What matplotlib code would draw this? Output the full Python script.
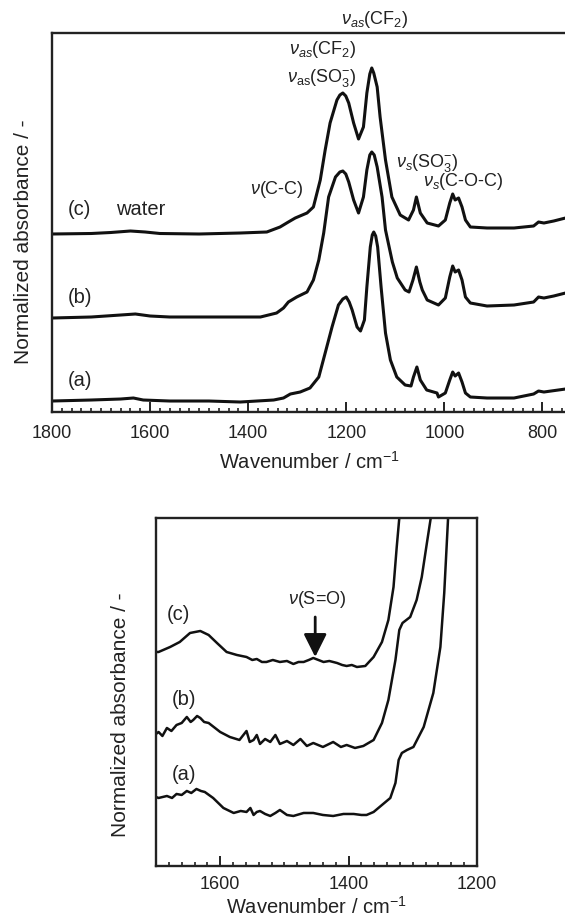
import matplotlib
matplotlib.use('Agg')
import matplotlib.pyplot as plt
from matplotlib.ticker import MultipleLocator

plt.rcParams['font.family'] = ['Liberation Sans', 'DejaVu Sans']
plt.rcParams['mathtext.fontset'] = 'custom'
plt.rcParams['mathtext.rm'] = 'Liberation Sans'
plt.rcParams['mathtext.it'] = 'Liberation Sans:italic'

# ---- top panel: full spectra (offsets included)
wn_top_a = [1800, 1720, 1660, 1634, 1614, 1560, 1480, 1416, 1348, 1328, 1314, 1294, 1274, 1256,
            1243, 1229, 1216, 1207, 1200, 1194, 1188, 1178, 1171, 1163, 1158, 1151, 1147, 1144,
            1140, 1136, 1129, 1120, 1110, 1097, 1080, 1068, 1063, 1056, 1049, 1036, 1015, 1012,
            998, 989, 983, 978, 971, 964, 957, 947, 913, 858, 818, 808, 797, 753]
ab_top_a = [0.11, 0.12, 0.13, 0.14, 0.12, 0.11, 0.11, 0.10, 0.12, 0.14, 0.18, 0.20, 0.24, 0.35,
            0.59, 0.85, 1.07, 1.13, 1.15, 1.10, 1.02, 0.85, 0.81, 0.92, 1.25, 1.65, 1.77, 1.80,
            1.76, 1.65, 1.25, 0.79, 0.52, 0.35, 0.27, 0.26, 0.35, 0.45, 0.32, 0.22, 0.19, 0.15,
            0.19, 0.32, 0.40, 0.36, 0.39, 0.30, 0.19, 0.15, 0.14, 0.14, 0.18, 0.21, 0.20, 0.23]

wn_top_b = [1800, 1720, 1660, 1630, 1600, 1560, 1480, 1416, 1375, 1342, 1328, 1318, 1301, 1280,
            1267, 1256, 1246, 1236, 1222, 1213, 1207, 1201, 1195, 1185, 1175, 1165, 1158, 1152,
            1148, 1143, 1137, 1127, 1120, 1106, 1096, 1080, 1072, 1064, 1057, 1050, 1045, 1035,
            1012, 998, 989, 983, 978, 971, 964, 957, 947, 913, 858, 818, 808, 797, 777, 753]
ab_top_b = [0.94, 0.95, 0.97, 0.98, 0.96, 0.95, 0.95, 0.95, 0.95, 0.99, 1.04, 1.10, 1.15, 1.20,
            1.32, 1.52, 1.79, 2.15, 2.35, 2.40, 2.41, 2.38, 2.30, 2.12, 1.99, 2.15, 2.42, 2.57,
            2.60, 2.57, 2.45, 2.15, 1.82, 1.50, 1.34, 1.22, 1.20, 1.32, 1.45, 1.30, 1.22, 1.12,
            1.07, 1.14, 1.35, 1.46, 1.40, 1.42, 1.32, 1.15, 1.09, 1.06, 1.07, 1.10, 1.15, 1.14,
            1.16, 1.19]

wn_top_c = [1800, 1720, 1680, 1640, 1610, 1580, 1500, 1416, 1362, 1335, 1318, 1304, 1280, 1267,
            1253, 1243, 1233, 1219, 1213, 1207, 1201, 1195, 1185, 1175, 1165, 1158, 1152, 1148,
            1144, 1137, 1131, 1120, 1107, 1090, 1073, 1063, 1057, 1049, 1035, 1012, 998, 989,
            983, 978, 971, 964, 957, 947, 913, 858, 818, 808, 797, 777, 753]
ab_top_c = [1.78, 1.785, 1.795, 1.81, 1.80, 1.785, 1.78, 1.79, 1.80, 1.85, 1.90, 1.94, 1.99, 2.05,
            2.32, 2.62, 2.89, 3.12, 3.17, 3.19, 3.16, 3.09, 2.89, 2.73, 2.85, 3.19, 3.38, 3.44,
            3.39, 3.25, 2.95, 2.52, 2.15, 1.97, 1.92, 2.02, 2.15, 1.99, 1.89, 1.86, 1.92, 2.09,
            2.18, 2.12, 2.14, 2.05, 1.92, 1.85, 1.84, 1.84, 1.86, 1.90, 1.89, 1.91, 1.94]

# ---- bottom panel: zoom 1700-1200
wn_bot_a = [1700, 1696, 1683, 1675, 1668, 1660, 1652, 1645, 1637, 1630, 1624, 1611, 1595, 1579,
            1568, 1559, 1553, 1548, 1543, 1538, 1530, 1522, 1514, 1507, 1496, 1486, 1470, 1455,
            1440, 1424, 1408, 1392, 1380, 1372, 1361, 1348, 1335, 1327, 1322, 1317, 1309, 1299,
            1283, 1268, 1257, 1251, 1245, 1240]
ab_bot_a = [0.69, 0.68, 0.70, 0.68, 0.72, 0.71, 0.75, 0.73, 0.77, 0.75, 0.74, 0.68, 0.58, 0.53,
            0.55, 0.54, 0.58, 0.51, 0.54, 0.55, 0.52, 0.50, 0.53, 0.56, 0.51, 0.50, 0.53, 0.53,
            0.51, 0.50, 0.52, 0.52, 0.51, 0.51, 0.54, 0.61, 0.68, 0.83, 1.06, 1.13, 1.16, 1.19,
            1.39, 1.73, 2.19, 2.73, 3.48, 3.70]

wn_bot_b = [1700, 1696, 1690, 1683, 1676, 1668, 1660, 1652, 1646, 1642, 1636, 1631, 1625, 1618,
            1600, 1585, 1570, 1559, 1554, 1548, 1543, 1538, 1530, 1522, 1514, 1507, 1496, 1486,
            1475, 1465, 1455, 1440, 1424, 1412, 1403, 1390, 1377, 1361, 1348, 1338, 1327, 1321,
            1316, 1304, 1294, 1286, 1278, 1272, 1268]
ab_bot_b = [1.32, 1.34, 1.30, 1.38, 1.35, 1.41, 1.43, 1.49, 1.44, 1.46, 1.50, 1.48, 1.44, 1.43,
            1.34, 1.29, 1.26, 1.35, 1.24, 1.26, 1.31, 1.22, 1.27, 1.24, 1.31, 1.22, 1.25, 1.21,
            1.27, 1.20, 1.23, 1.19, 1.24, 1.19, 1.21, 1.18, 1.20, 1.26, 1.43, 1.66, 2.06, 2.36,
            2.43, 2.49, 2.66, 2.89, 3.23, 3.48, 3.70]

wn_bot_c = [1700, 1696, 1678, 1663, 1647, 1631, 1618, 1605, 1590, 1574, 1559, 1550, 1543, 1535,
            1528, 1518, 1507, 1496, 1486, 1478, 1470, 1462, 1455, 1447, 1439, 1430, 1418, 1410,
            1403, 1395, 1387, 1374, 1361, 1348, 1338, 1330, 1325, 1321, 1318]
ab_bot_c = [2.14, 2.14, 2.19, 2.24, 2.33, 2.35, 2.31, 2.23, 2.14, 2.11, 2.09, 2.06, 2.07, 2.04,
            2.04, 2.06, 2.04, 2.05, 2.02, 2.04, 2.04, 2.06, 2.08, 2.06, 2.04, 2.05, 2.03, 2.01,
            2.00, 2.01, 1.99, 2.00, 2.09, 2.24, 2.46, 2.79, 3.19, 3.48, 3.70]

fig = plt.figure(figsize=(5.65, 9.24), dpi=100)

lw = 2.2
# top panel
ax1 = fig.add_axes([0.092, 0.5541, 0.9115, 0.4102])
for wn, ab in [(wn_top_a, ab_top_a), (wn_top_b, ab_top_b), (wn_top_c, ab_top_c)]:
    ax1.plot(wn, ab, color='#111111', lw=lw, solid_joinstyle='round')
ax1.set_xlim(1800, 750)
ax1.set_ylim(0, 3.79)

# bottom panel
ax2 = fig.add_axes([0.2761, 0.0628, 0.5681, 0.3766])
for wn, ab in [(wn_bot_a, ab_bot_a), (wn_bot_b, ab_bot_b), (wn_bot_c, ab_bot_c)]:
    ax2.plot(wn, ab, color='#111111', lw=1.8, solid_joinstyle='round')
ax2.set_xlim(1700, 1200)
ax2.set_ylim(0, 3.48)

for ax in (ax1, ax2):
    ax.xaxis.set_major_locator(MultipleLocator(200))
    ax.xaxis.set_minor_locator(MultipleLocator(20))
    ax.set_yticks([])
    ax.tick_params(axis='x', which='minor', direction='in', length=3, width=1.2, colors='#222222')
    for sp in ax.spines.values():
        sp.set_linewidth(1.7)
        sp.set_color('#222222')
    ax.set_ylabel('Normalized absorbance / -', fontsize=15, color='#222222')

ax1.tick_params(axis='x', which='major', direction='in', length=7, width=1.4,
                labelsize=13, pad=9, colors='#222222')
ax2.tick_params(axis='x', which='major', direction='in', length=7, width=1.4,
                labelsize=13, pad=7, colors='#222222')
ax1.set_xlabel('Wavenumber / cm$^{-1}$', fontsize=14.5, color='#222222', labelpad=7)
ax2.set_xlabel('Wavenumber / cm$^{-1}$', fontsize=14.5, color='#222222', labelpad=2)

ax1.yaxis.set_label_coords(-0.037, 0.45)
ax2.yaxis.set_label_coords(-0.081, 0.434)

fs = 13
fl = 14.5
tc = '#222222'
# labels top panel
ax1.text(1743, 2.02, '(c)', fontsize=fl, ha='center', va='center', color=tc)
ax1.text(1620, 2.02, 'water', fontsize=fl, ha='center', va='center', color=tc)
ax1.text(1743, 1.15, '(b)', fontsize=fl, ha='center', va='center', color=tc)
ax1.text(1743, 0.32, '(a)', fontsize=fl, ha='center', va='center', color=tc)
ax1.text(1341, 2.22, r'$\nu$(C-C)', fontsize=fs, ha='center', va='center', color=tc)
ax1.text(1249, 3.62, r'$\nu_{as}$(CF$_2$)', fontsize=fs, ha='center', va='center', color=tc)
ax1.text(1249, 3.34, r'$\nu_{\mathrm{as}}$(SO$_3^{-}$)', fontsize=fs, ha='center', va='center', color=tc)
ax1.text(1143, 3.92, r'$\nu_{as}$(CF$_2$)', fontsize=fs, ha='center', va='center', color=tc)
ax1.text(1035, 2.49, r'$\nu_{s}$(SO$_3^{-}$)', fontsize=fs, ha='center', va='center', color=tc)
ax1.text(961, 2.30, r'$\nu_{s}$(C-O-C)', fontsize=fs, ha='center', va='center', color=tc)

# labels bottom panel
ax2.text(1665, 2.51, '(c)', fontsize=fl, ha='center', va='center', color=tc)
ax2.text(1656, 1.66, '(b)', fontsize=fl, ha='center', va='center', color=tc)
ax2.text(1656, 0.91, '(a)', fontsize=fl, ha='center', va='center', color=tc)
ax2.text(1449, 2.66, r'$\nu$(S=O)', fontsize=fs, ha='center', va='center', color=tc)
ax2.annotate('', xy=(1452, 2.09), xytext=(1452, 2.49),
             arrowprops=dict(arrowstyle='-|>,head_length=0.7,head_width=0.35',
                             mutation_scale=20, color='#111111', lw=2,
                             shrinkA=0, shrinkB=0))

fig.savefig('out.png', dpi=100)
